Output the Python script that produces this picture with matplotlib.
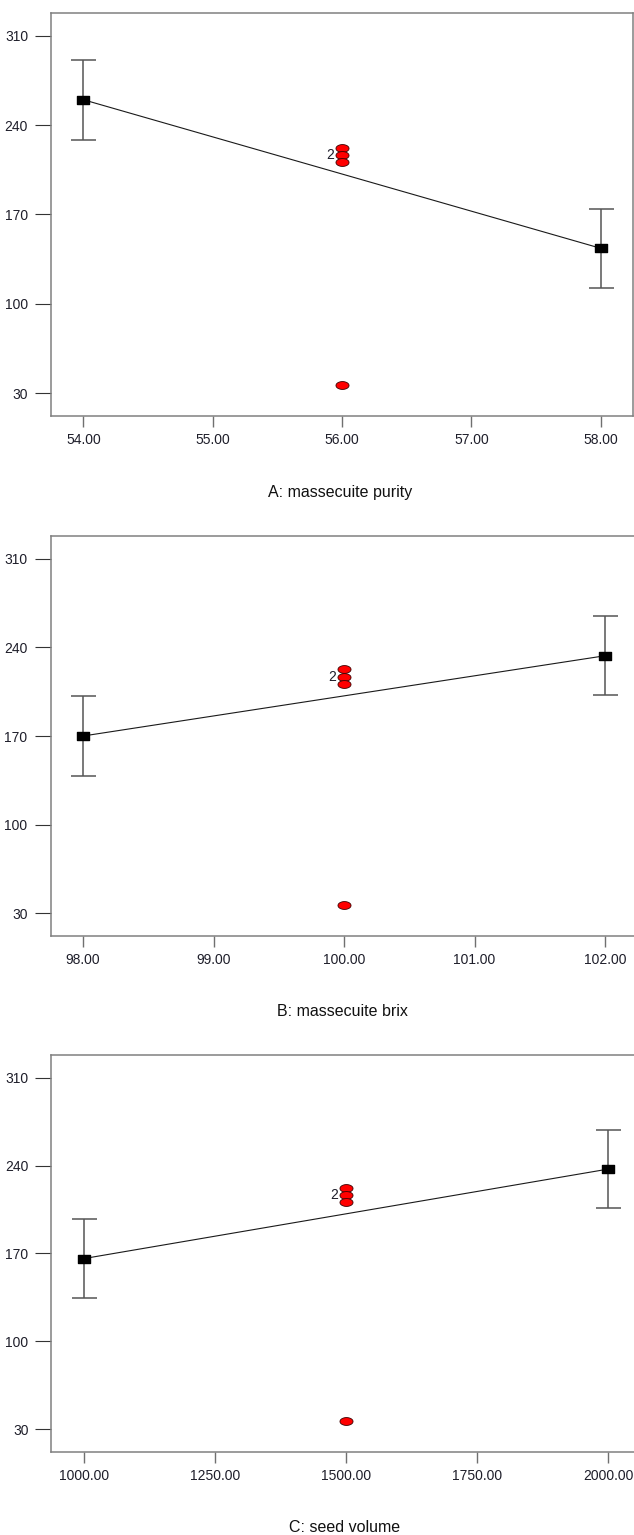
import numpy as np
import matplotlib
matplotlib.use("Agg")
import matplotlib.pyplot as plt
from matplotlib.path import Path

# ---------------- data ----------------
factor_labels = ["A: massecuite purity", "B: massecuite brix", "C: seed volume"]
x_low = [54.0, 98.0, 1000.0]
x_high = [58.0, 102.0, 2000.0]
x_center = [56.0, 100.0, 1500.0]
x_ticks = [
    [54, 55, 56, 57, 58],
    [98, 99, 100, 101, 102],
    [1000, 1250, 1500, 1750, 2000],
]
x_limits = [(53.75, 58.25), (97.75, 102.25), (937.5, 2062.5)]
low_means = [260.0, 170.0, 166.0]
high_means = [143.5, 233.3, 237.2]
ci_half = [31.2, 31.3, 31.3]
center_points = [222.5, 216.3, 211.0, 36.4]
replicate_value = 216.3
replicate_label = "2"
y_ticks = [30, 100, 170, 240, 310]
y_limits = (12, 328)

# ---------------- layout (pixels) ----------------
W, H, DPI = 634, 1535, 100
# (left, right, top, bottom) in pixels
boxes = [
    (51.0, 633.0, 13.0, 416.0),
    (50.5, 637.6, 535.7, 936.3),
    (51.4, 641.0, 1055.0, 1452.0),
]
label_offsets = [77, 75.5, 75]

fig = plt.figure(figsize=(W / DPI, H / DPI), dpi=DPI)

tick_font = ["Liberation Sans Narrow", "Liberation Sans", "DejaVu Sans"]
label_font = ["Liberation Sans", "DejaVu Sans"]

# custom markers
t = np.linspace(0, 2 * np.pi, 60)
ellipse = Path(np.column_stack([np.cos(t), 0.6 * np.sin(t)]), closed=True)
rect = Path([(-1, -0.68), (1, -0.68), (1, 0.68), (-1, 0.68), (-1, -0.68)], closed=True)

spine_color = "#808080"
text_color = "#1e1e2a"

for i in range(3):
    l, r, tp, b = boxes[i]
    ax = fig.add_axes([l / W, 1 - b / H, (r - l) / W, (b - tp) / H])
    ax.set_xlim(*x_limits[i])
    ax.set_ylim(*y_limits)

    # connecting line
    ax.plot([x_low[i], x_high[i]], [low_means[i], high_means[i]],
            color="#1a1a1a", lw=0.8, zorder=2)
    # error bars
    ax.errorbar([x_low[i], x_high[i]], [low_means[i], high_means[i]],
                yerr=[ci_half[i], ci_half[i]], fmt="none",
                ecolor="#555555", elinewidth=1.1, capsize=9, capthick=1.1,
                zorder=3)
    # mean squares
    ax.plot([x_low[i], x_high[i]], [low_means[i], high_means[i]],
            linestyle="none", marker=rect, markersize=9.2,
            markerfacecolor="black", markeredgecolor="black", zorder=4)
    # center points
    ax.plot([x_center[i]] * len(center_points), center_points,
            linestyle="none", marker=ellipse, markersize=9.4,
            markerfacecolor="#ff0000", markeredgecolor="#3a0000",
            markeredgewidth=0.6, zorder=5)
    ax.annotate(replicate_label, xy=(x_center[i], replicate_value),
                xytext=(-6, 0), textcoords="offset points",
                ha="right", va="center", fontsize=10,
                family=label_font, color=text_color, zorder=6)

    # axes styling
    for s in ax.spines.values():
        s.set_color(spine_color)
        s.set_linewidth(1.1)
    ax.set_xticks(x_ticks[i])
    ax.set_xticklabels([f"{v:.2f}" for v in x_ticks[i]])
    ax.set_yticks(y_ticks)
    ax.set_yticklabels([str(v) for v in y_ticks])
    ax.tick_params(axis="y", direction="out", length=11.5, width=0.8,
                   color="#333333", pad=5, labelsize=10, labelcolor=text_color)
    ax.tick_params(axis="x", direction="out", length=8, width=1.0,
                   color="#707070", pad=4.3, labelsize=10, labelcolor=text_color)
    for lab in ax.get_xticklabels() + ax.get_yticklabels():
        lab.set_family(tick_font)
    ax.minorticks_off()

    xl = ax.set_xlabel(factor_labels[i], fontsize=11.5, family=label_font,
                       color="#111111", va="center")
    ax.xaxis.set_label_coords(0.5 - 2.0 / (r - l), -label_offsets[i] / (b - tp))

fig.savefig("out.png", dpi=DPI)
